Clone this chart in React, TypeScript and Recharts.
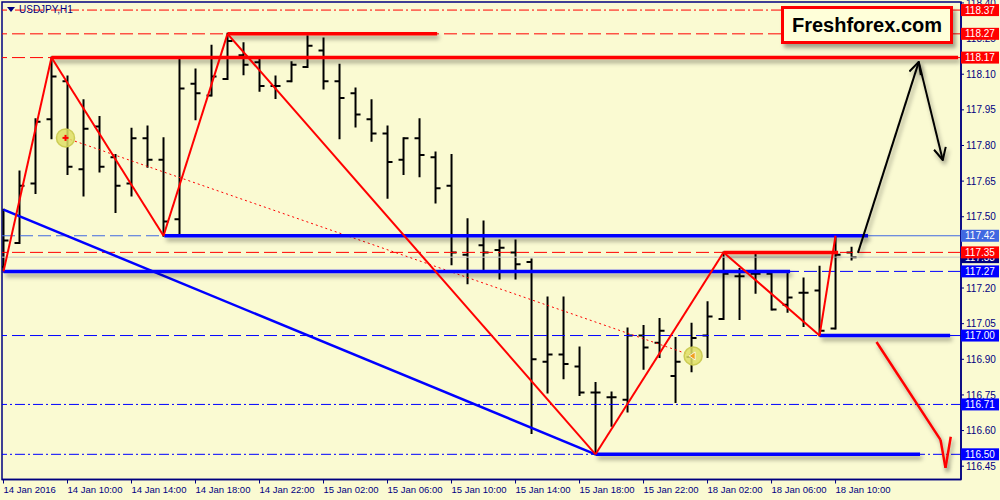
import React from 'react';
import { ComposedChart, Bar, XAxis, YAxis, ReferenceLine, ReferenceArea, ReferenceDot } from 'recharts';

// ---- OHLC data (USDJPY H1, 14 Jan 06:00 .. 18 Jan 11:00) ----
const opens = [117.29, 117.39, 117.64, 117.91, 118.07, 117.70, 117.88, 117.75, 117.64, 117.83,
  117.74, 117.49, 118.06, 118.01, 118.08, 118.18, 118.15, 118.05, 118.07, 118.13,
  118.20, 118.07, 118.02, 117.91, 117.85, 117.74, 117.83, 117.75, 117.63, 117.34,
  117.38, 117.36, 117.35, 117.31, 116.89, 116.92, 116.87, 116.76, 116.74, 116.73,
  117.00, 116.97, 116.83, 116.91, 117.00, 117.07, 117.25, 117.26, 117.26, 117.13,
  117.18, 117.19, 117.03, 117.35];
const highs = [117.53, 117.69, 117.91, 118.17, 118.09, 117.99, 117.92, 117.76, 117.87, 117.88,
  117.83, 118.16, 118.12, 118.22, 118.27, 118.23, 118.16, 118.09, 118.15, 118.26,
  118.25, 118.14, 118.04, 117.99, 117.88, 117.83, 117.91, 117.77, 117.76, 117.49,
  117.48, 117.40, 117.40, 117.32, 117.16, 117.16, 116.95, 116.80, 116.76, 117.03,
  117.04, 117.07, 116.99, 117.05, 117.14, 117.35, 117.28, 117.34, 117.26, 117.26,
  117.24, 117.29, 117.42, 117.37];
const lows = [117.27, 117.39, 117.60, 117.83, 117.68, 117.59, 117.69, 117.52, 117.59, 117.71,
  117.42, 117.43, 117.91, 118.01, 118.08, 118.10, 118.03, 118.00, 118.07, 118.13,
  118.04, 117.83, 117.88, 117.82, 117.58, 117.68, 117.67, 117.56, 117.30, 117.22,
  117.28, 117.24, 117.24, 116.59, 116.76, 116.82, 116.75, 116.50, 116.62, 116.68,
  116.86, 116.91, 116.72, 116.85, 116.91, 117.07, 117.07, 117.18, 117.11, 117.10,
  117.04, 117.00, 117.03, 117.32];
const closes = [117.40, 117.63, 117.90, 118.09, 117.71, 117.87, 117.71, 117.63, 117.83, 117.74,
  117.48, 118.04, 118.02, 118.09, 118.24, 118.14, 118.05, 118.05, 118.14, 118.22,
  118.07, 118.00, 117.93, 117.85, 117.73, 117.83, 117.76, 117.62, 117.35, 117.42,
  117.35, 117.37, 117.30, 116.90, 116.92, 116.88, 116.76, 116.76, 116.74, 117.00,
  116.95, 117.02, 116.89, 116.99, 117.08, 117.26, 117.25, 117.26, 117.11, 117.16,
  117.18, 117.02, 117.34, 117.33];

// ---- axis ticks ----
const xTickBars = [0, 4, 8, 12, 16, 20, 24, 28, 32, 36, 40, 44, 48, 52];
const xTickLabels = ['14 Jan 2016', '14 Jan 10:00', '14 Jan 14:00', '14 Jan 18:00', '14 Jan 22:00',
  '15 Jan 02:00', '15 Jan 06:00', '15 Jan 10:00', '15 Jan 14:00', '15 Jan 18:00', '15 Jan 22:00',
  '18 Jan 02:00', '18 Jan 06:00', '18 Jan 10:00'];
const yTicks = [116.45, 116.60, 116.75, 116.90, 117.05, 117.20, 117.35, 117.50, 117.65, 117.80,
  117.95, 118.10, 118.25, 118.40];

// ---- levels ----
const dashedRedLevels = [118.27, 118.17, 117.35];
const dashDotRedLevels = [118.37];
const dashedBlueLevels = [117.27, 117.00];
const dashDotBlueLevels = [116.71, 116.50];
const alertLevel = 117.42;
const bidLevel = 117.33;

// thick horizontal levels: price, start bar, end bar
const thickPrices = [118.17, 118.27, 117.42, 117.35, 117.27, 117.00, 116.50];
const thickFrom = [3, 14, 10.05, 45, 0, 51, 37];
const thickTo = [59.66, 27.1, 54.03, 52.16, 49.16, 59.16, 57.28];
const thickIsRed = [true, true, false, true, false, false, false];

// zigzag
const zigBars = [0, 3, 10, 14, 37, 45, 51, 52];
const zigPrices = [117.27, 118.17, 117.42, 118.27, 116.50, 117.35, 117.00, 117.42];

// channel / trend lines
const blueTrendBars = [0, 37];
const blueTrendPrices = [117.53, 116.50];
const dottedBars = [3.875, 43.1];
const dottedPrices = [117.832, 116.914];

// forecast arrows
const blackArrowBars = [53.4, 57.2, 58.7];
const blackArrowPrices = [117.348, 118.152, 117.739];
const redArrowBars = [54.56, 58.56, 58.87];
const redArrowPrices = [116.973, 116.561, 116.443];
const redArrowArmBars = [59.2, 58.87];
const redArrowArmPrices = [116.574, 116.443];

// right-axis price tags (drawn after the plain tick labels so they sit on top)
const tagPrices = [117.42, 117.33, 118.37, 118.27, 118.17, 117.35, 117.27, 117.00, 116.71, 116.50];
const tagKinds = ['alert', 'bid', 'res', 'res', 'res', 'res', 'sup', 'sup', 'sup', 'sup'];

const TAG_COLORS: Record<string, string> = { alert: '#4169E1', bid: '#000080', res: '#FF0000', sup: '#0000FF' };

const data = opens.map((o, i) => ({ i, o, h: highs[i], l: lows[i], c: closes[i] }));
const allYTicks = [...yTicks, ...tagPrices];

const X_DOMAIN: [number, number] = [-0.094, 59.84];
const Y_DOMAIN: [number, number] = [116.394, 118.404];
const BG = '#FAFAD2';
const NAVY = '#000080';
const FONT = '"Liberation Sans", Arial, sans-serif';

const OhlcShape = (props: any) => {
  const { x, y, width, height, payload } = props;
  if (x == null || y == null || !payload) return null;
  const cx = x + (width || 0) / 2;
  const top = Math.min(y, y + height);
  const bot = Math.max(y, y + height);
  const span = payload.h - payload.l;
  const py = (v: number) => (span > 0 ? top + ((bot - top) * (payload.h - v)) / span : top);
  return (
    <g>
      <line x1={cx} x2={cx} y1={top - 1} y2={bot + 1} stroke="#000" strokeWidth={2} />
      <line x1={cx - 5} x2={cx} y1={py(payload.o)} y2={py(payload.o)} stroke="#000" strokeWidth={2} />
      <line x1={cx} x2={cx + 5} y1={py(payload.c)} y2={py(payload.c)} stroke="#000" strokeWidth={2} />
    </g>
  );
};

const YTick = (props: any) => {
  const { x, y, payload, index } = props;
  const v: number = payload.value;
  const k = index - yTicks.length;
  if (k >= 0) {
    const bx = x - 5;
    return (
      <g>
        <rect x={bx} y={y - 6} width={38} height={12} fill={TAG_COLORS[tagKinds[k]]} />
        <text x={bx + 4} y={y + 3.6} fill="#FFFFFF" fontSize={10} fontFamily={FONT}>{v.toFixed(2)}</text>
      </g>
    );
  }
  return (
    <text x={x} y={y + 3.6} fill={NAVY} fontSize={10} fontFamily={FONT}>{v.toFixed(2)}</text>
  );
};

const XTick = (props: any) => {
  const { x, y, payload } = props;
  const k = xTickBars.indexOf(payload.value);
  return (
    <text x={x} y={y + 7} fill={NAVY} fontSize={9.5} fontFamily={FONT} textAnchor="start">
      {k >= 0 ? xTickLabels[k] : ''}
    </text>
  );
};

const CircleMark = (kind: 'cross' | 'tri') => (props: any) => {
  const { cx, cy } = props;
  if (cx == null || cy == null) return null;
  return (
    <g>
      <circle cx={cx} cy={cy} r={9} fill="#DEDE66" fillOpacity={0.85} stroke="#CDCD55" strokeWidth={1.5} />
      {kind === 'cross' ? (
        <g stroke="#FF0000" strokeWidth={2}>
          <line x1={cx - 3} x2={cx + 3} y1={cy} y2={cy} />
          <line x1={cx} x2={cx} y1={cy - 3} y2={cy + 3} />
        </g>
      ) : (
        <polygon points={`${cx + 2},${cy - 4} ${cx + 2},${cy + 4} ${cx - 4},${cy}`} fill="#F0A020" stroke="#FFFFFF" strokeWidth={0.8} />
      )}
    </g>
  );
};

export default function App() {
  const segs = (bars: number[], prices: number[]) =>
    bars.slice(1).map((b, k) => [
      { x: bars[k], y: prices[k] },
      { x: b, y: prices[k + 1] },
    ]);

  return (
    <div style={{ position: 'absolute', left: 0, top: 0, width: 1000, height: 500, background: BG, overflow: 'hidden' }}>
      <ComposedChart width={1000} height={500} data={data} margin={{ top: 2, right: 0, bottom: 0, left: 2 }}>
        <defs>
          <filter id="shadow" filterUnits="userSpaceOnUse" x="0" y="0" width="1000" height="500">
            <feDropShadow dx="2" dy="3.5" stdDeviation="2" floodColor="#000000" floodOpacity="0.38" />
          </filter>
          <marker id="arrBlack" viewBox="0 0 14 14" refX="13" refY="7" markerWidth="14" markerHeight="14" markerUnits="userSpaceOnUse" orient="auto">
            <path d="M1,1 L13,7 L1,13" fill="none" stroke="#000" strokeWidth="2" />
          </marker>
        </defs>
        <XAxis
          dataKey="i"
          type="number"
          domain={X_DOMAIN}
          allowDataOverflow
          ticks={xTickBars}
          interval={0}
          height={20.5}
          tickSize={4}
          tickMargin={2}
          stroke={NAVY}
          tickLine={{ stroke: NAVY }}
          axisLine={{ stroke: NAVY, strokeWidth: 1.5 }}
          tick={<XTick />}
        />
        <YAxis
          orientation="right"
          type="number"
          domain={Y_DOMAIN}
          allowDataOverflow
          ticks={allYTicks}
          interval={0}
          width={39}
          tickSize={3}
          tickMargin={2}
          axisLine={{ stroke: NAVY, strokeWidth: 1.5 }}
          tickLine={{ stroke: NAVY }}
          tick={<YTick />}
        />

        {/* full-width level lines */}
        {dashDotRedLevels.map((p) => (
          <ReferenceLine key={'rdd' + p} y={p} stroke="#FF0000" strokeWidth={1} strokeDasharray="10 3 2 3" />
        ))}
        {dashedRedLevels.map((p) => (
          <ReferenceLine key={'rd' + p} y={p} stroke="#FF0000" strokeWidth={1} strokeDasharray="13 5" />
        ))}
        {dashedBlueLevels.map((p) => (
          <ReferenceLine key={'bd' + p} y={p} stroke="#0000FF" strokeWidth={1} strokeDasharray="13 5" />
        ))}
        {dashDotBlueLevels.map((p) => (
          <ReferenceLine key={'bdd' + p} y={p} stroke="#0000FF" strokeWidth={1} strokeDasharray="10 3 2 3" />
        ))}
        <ReferenceLine y={bidLevel} stroke="#C8C8C8" strokeWidth={1} />
        <ReferenceLine segment={[{ x: X_DOMAIN[0], y: alertLevel }, { x: 10, y: alertLevel }]} stroke="#4169E1" strokeWidth={1} strokeDasharray="13 5" />
        <ReferenceLine segment={[{ x: 54, y: alertLevel }, { x: X_DOMAIN[1], y: alertLevel }]} stroke="#4169E1" strokeWidth={1} />

        {/* trend lines */}
        {segs(blueTrendBars, blueTrendPrices).map((s, k) => (
          <ReferenceLine key={'bt' + k} segment={s} stroke="#0000FF" strokeWidth={2.5} />
        ))}
        {segs(dottedBars, dottedPrices).map((s, k) => (
          <ReferenceLine key={'dt' + k} segment={s} stroke="#FF0000" strokeWidth={1} strokeDasharray="2 3" />
        ))}

        <Bar dataKey={(d: any) => [d.l, d.h]} barSize={2} isAnimationActive={false} shape={<OhlcShape />} />

        {/* thick levels */}
        {thickPrices.map((p, k) => (
          <ReferenceLine
            key={'th' + k}
            segment={[{ x: thickFrom[k], y: p }, { x: thickTo[k], y: p }]}
            stroke={thickIsRed[k] ? '#FF0000' : '#0000FF'}
            strokeWidth={3.5}
            filter="url(#shadow)"
          />
        ))}

        {/* zigzag */}
        {segs(zigBars, zigPrices).map((s, k) => (
          <ReferenceLine key={'zz' + k} segment={s} stroke="#FF0000" strokeWidth={2} />
        ))}

        {/* circles */}
        <ReferenceDot x={dottedBars[0]} y={dottedPrices[0]} r={9} shape={CircleMark('cross')} />
        <ReferenceDot x={dottedBars[1]} y={dottedPrices[1]} r={9} shape={CircleMark('tri')} />

        {/* forecast arrows */}
        {segs(blackArrowBars, blackArrowPrices).map((s, k) => (
          <ReferenceLine key={'ba' + k} segment={s} stroke="#000000" strokeWidth={2} markerEnd="url(#arrBlack)" filter="url(#shadow)" />
        ))}
        {segs(redArrowBars, redArrowPrices).map((s, k) => (
          <ReferenceLine key={'ra' + k} segment={s} stroke="#FF0000" strokeWidth={2.5} filter="url(#shadow)" />
        ))}
        {segs(redArrowArmBars, redArrowArmPrices).map((s, k) => (
          <ReferenceLine key={'rarm' + k} segment={s} stroke="#FF0000" strokeWidth={2.5} filter="url(#shadow)" />
        ))}

        {/* frame */}
        <ReferenceArea x1={X_DOMAIN[0]} x2={X_DOMAIN[1]} y1={Y_DOMAIN[0]} y2={Y_DOMAIN[1]} fill="none" stroke={NAVY} strokeWidth={1.5} fillOpacity={0} />
      </ComposedChart>

      {/* symbol caption */}
      <div style={{ position: 'absolute', left: 7, top: 4, display: 'flex', alignItems: 'center', fontFamily: FONT, fontSize: 10, color: NAVY }}>
        <svg width={8} height={6} style={{ marginRight: 4 }}>
          <polygon points="0,0 8,0 4,5" fill={NAVY} />
        </svg>
        <span>USDJPY,H1</span>
      </div>

      {/* watermark logo */}
      <div
        style={{
          position: 'absolute', left: 781, top: 6, width: 166, height: 32,
          border: '3px solid #FF0000', background: '#FFFFD9',
          boxShadow: '3px 4px 4px rgba(0,0,0,0.35)',
          display: 'flex', alignItems: 'center', justifyContent: 'center',
          fontFamily: FONT, fontWeight: 700, fontSize: 20, color: '#000',
        }}
      >
        Freshforex.com
      </div>
    </div>
  );
}
